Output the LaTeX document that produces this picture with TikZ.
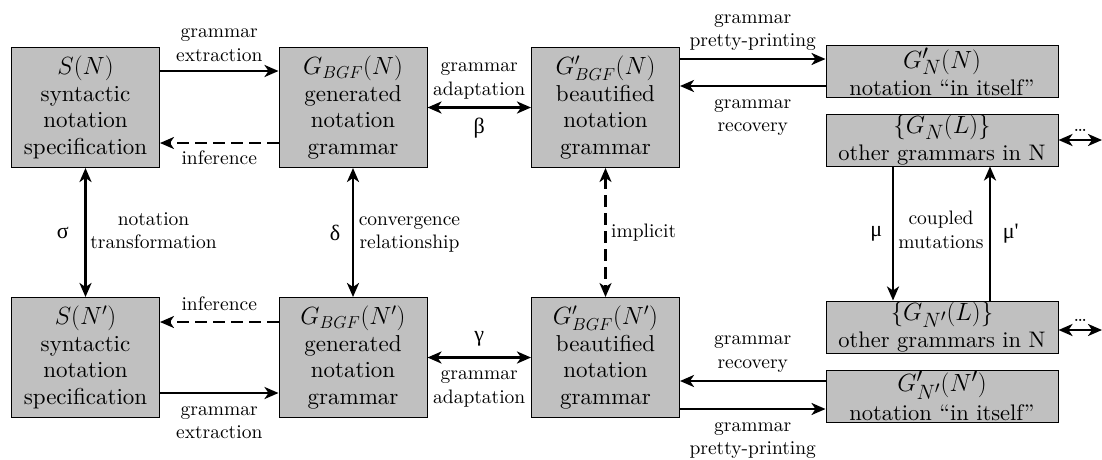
\documentclass[tikz,border=0pt]{standalone}
\usepackage{fontspec}
\setmainfont{lmroman10-regular.otf}[BoldFont=lmroman10-bold.otf, ItalicFont=lmroman10-italic.otf]
\newfontfamily\grk{Liberation Serif}
\usetikzlibrary{arrows.meta}
\definecolor{boxgray}{HTML}{C0C0C0}
\newcommand\bxfont{\fontsize{23}{26.5}\selectfont}
\newcommand\rbfont{\fontsize{22.5}{24.5}\selectfont}
\newcommand\rmth[1]{{\fontsize{24.88}{24.5}\selectfont$#1$}}
\newcommand\lbfont{\fontsize{19.5}{23.5}\selectfont}
\newcommand\gkfont{\fontsize{22}{24}\selectfont\grk}
\newcommand\dtfont{\fontsize{20}{20}\selectfont}
\begin{document}
\begin{tikzpicture}[x=1pt,y=-1pt,
  box/.style={draw=black, line width=1pt, fill=boxgray, inner sep=0pt, align=center, font=\bxfont},
  rbox/.style={box, minimum width=232pt, minimum height=52pt, font=\rbfont},
  cbox/.style={box, minimum width=148pt, minimum height=120pt},
  conn/.style={line width=2.6pt},
  tip/.tip={Stealth[length=14pt,width=12pt,inset=4pt]},
  arr/.style={conn, -tip},
  darr/.style={conn, tip-tip},
  dsh/.style={line width=2.2pt, dash pattern=on 12pt off 6pt},
  lbl/.style={font=\lbfont, align=center, inner sep=1.5pt},
  gk/.style={font=\gkfont, inner sep=1.5pt},
  dots/.style={font=\dtfont, inner sep=0pt}]
\useasboundingbox (0,0) rectangle (1102,459);

% boxes
\node[cbox] (sn)  at (85.5,107.5) {$S(N)$\\syntactic\\notation\\specification};
\node[cbox] (gn)  at (353,107.5)  {$G_{BGF}(N)$\\generated\\notation\\grammar};
\node[cbox] (bn)  at (605.5,107.5){$G'_{BGF}(N)$\\beautified\\notation\\grammar};
\node[rbox] (inn) at (942,71.5)   {\rmth{G'_{N}(N)}\\[2.5pt]notation “in itself”};
\node[rbox] (on)  at (942,140)    {\rmth{\{G_{N}(L)\}}\\[2.5pt]other grammars in N};

\node[cbox] (snp) at (85.5,357.5) {$S(N')$\\syntactic\\notation\\specification};
\node[cbox] (gnp) at (353,357.5)  {$G_{BGF}(N')$\\generated\\notation\\grammar};
\node[cbox] (bnp) at (605.5,357.5){$G'_{BGF}(N')$\\beautified\\notation\\grammar};
\node[rbox] (onp) at (942,327)    {\rmth{\{G_{N'}(L)\}}\\[2.5pt]other grammars in N};
\node[rbox] (innp) at (942,396)   {\rmth{G'_{N'}(N')}\\[4.5pt]notation “in itself”};

\coordinate (e1) at (1102,140);
\coordinate (e2) at (1102,330);

% top row
\draw[arr] ([yshift=36.5pt]sn.east) -- ([yshift=36.5pt]gn.west)
  node[lbl, midway, above=0pt] {\strut grammar\\extraction\strut};
\draw[arr, dsh] ([yshift=-35.5pt]gn.west) -- ([yshift=-35.5pt]sn.east)
  node[lbl, midway, below=2pt] {\strut inference\strut};
\draw[darr] (gn.east) -- (bn.west)
  node[lbl, midway, above=2.5pt] {\strut grammar\\adaptation\strut}
  node[gk, midway, below=8pt] {β};
\draw[arr] ([yshift=48.5pt]bn.east) -- ([yshift=12.5pt]inn.west)
  node[lbl, midway, above=2.5pt] {\strut grammar\\pretty-printing\strut};
\draw[arr] ([yshift=-14.5pt]inn.west) -- ([yshift=21.5pt]bn.east)
  node[lbl, midway, below=3pt] {\strut grammar\\recovery\strut};
\draw[darr] (on.east) -- (e1)
  node[dots, midway, above=7pt] {\ldots};

% verticals
\draw[darr] (sn.south) -- (snp.north)
  node[gk, midway, left=14pt] {σ}
  node[lbl, midway, right=2pt] {\strut notation\\transformation\strut};
\draw[darr] (gn.south) -- (gnp.north)
  node[gk, midway, left=10pt] {δ}
  node[lbl, midway, right=3pt] {\strut convergence\\relationship\strut};
\draw[dsh, tip-tip] (bn.south) -- (bnp.north)
  node[lbl, midway, right=3pt] {implicit};
\draw[arr] ([xshift=-49pt]on.south) -- ([xshift=-49pt]onp.north)
  node[gk, midway, left=8pt] {μ};
\draw[arr] ([xshift=48pt]onp.north) -- ([xshift=48pt]on.south)
  node[gk, midway, right=10pt] {μ\char"27};
\node[lbl] (cm) at (941,232) {\strut coupled\\mutations\strut};

% bottom row
\draw[arr, dsh] ([yshift=35.5pt]gnp.west) -- ([yshift=35.5pt]snp.east)
  node[lbl, midway, above=2pt] {\strut inference\strut};
\draw[arr] ([yshift=-35.5pt]snp.east) -- ([yshift=-35.5pt]gnp.west)
  node[lbl, midway, below=3pt] {\strut grammar\\extraction\strut};
\draw[darr] (gnp.east) -- (bnp.west)
  node[gk, midway, above=8.5pt] {γ}
  node[lbl, midway, below=3pt] {\strut grammar\\adaptation\strut};
\draw[arr] ([yshift=15pt]innp.west) -- ([yshift=-23.5pt]bnp.east)
  node[lbl, midway, above=3pt] {\strut grammar\\recovery\strut};
\draw[arr] ([yshift=-51.5pt]bnp.east) -- ([yshift=-13pt]innp.west)
  node[lbl, midway, below=3pt] {\strut grammar\\pretty-printing\strut};
\draw[darr] ([yshift=-3pt]onp.east) -- (e2)
  node[dots, midway, above=7pt] {\ldots};
\end{tikzpicture}
\end{document}
